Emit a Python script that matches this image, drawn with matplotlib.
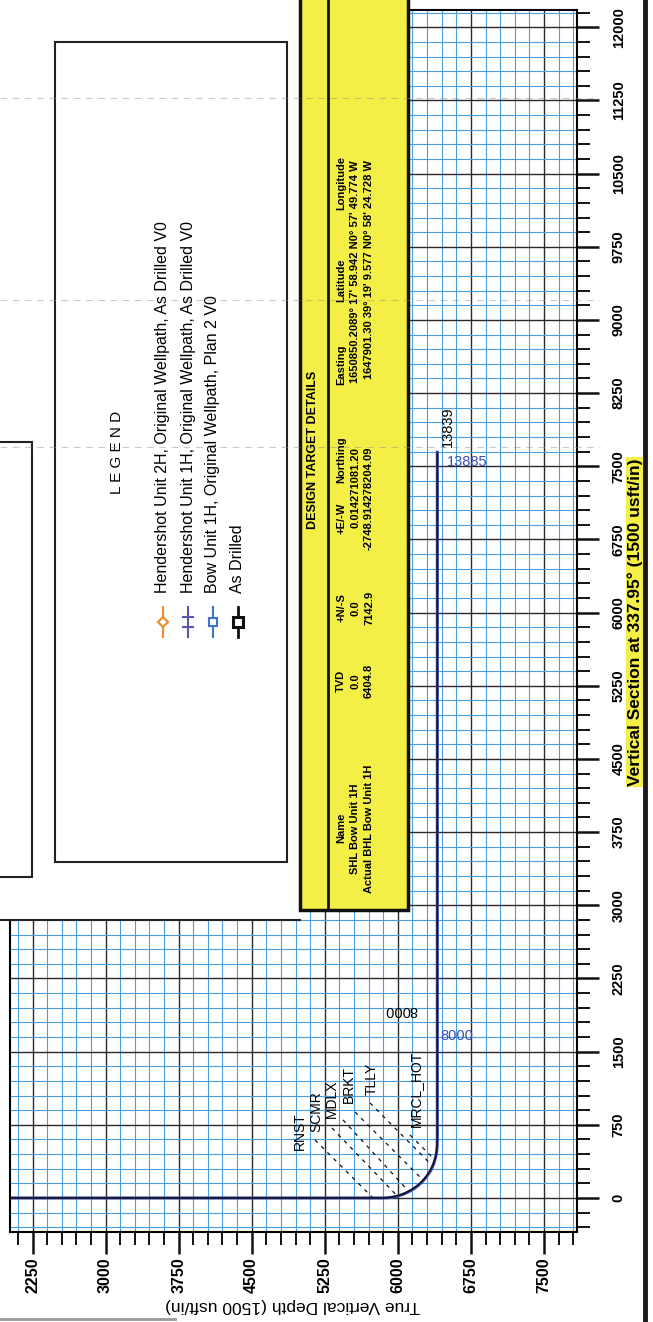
import matplotlib
matplotlib.use("Agg")
import matplotlib.pyplot as plt
from matplotlib.patches import Rectangle
from matplotlib.lines import Line2D
from matplotlib.ticker import MultipleLocator

W, H = 653, 1322
plt.rcParams['font.family'] = ['Liberation Sans', 'DejaVu Sans']

TVD_TICKS = [2250, 3000, 3750, 4500, 5250, 6000, 6750, 7500]
VS_TICKS = [0, 750, 1500, 2250, 3000, 3750, 4500, 5250, 6000, 6750, 7500,
            8250, 9000, 9750, 10500, 11250, 12000]

plan_tvd = [0, 5850, 5900, 5950, 6000, 6050, 6100, 6150, 6200, 6250, 6300, 6340,
            6370, 6390, 6400, 6404, 6405, 6405]
plan_vs = [0, 0, 2, 9, 20, 36, 58, 85, 120, 165, 225, 285, 355, 425, 485, 540, 620, 7660]

drill_tvd = [0, 5830, 5880, 5930, 5980, 6030, 6080, 6130, 6180, 6230, 6280, 6320,
             6355, 6380, 6395, 6402, 6405, 6406]
drill_vs = [0, 0, 2, 8, 18, 33, 53, 80, 112, 152, 205, 262, 325, 395, 460, 530, 620, 7640]

form_names = ["RNST", "SCMR", "MDLX", "BRKT", "TLLY", "MRCL_HOT"]
form_lbl_tvd = [4996, 5160, 5324, 5499, 5735, 6186]
form_lbl_vs = [492, 677, 820, 974, 1056, 728]
form_tvd0 = [5150, 5324, 5437, 5560, 5714, 6125]
form_vs0 = [594, 717, 800, 881, 974, 646]
form_tvd1 = [5745, 5990, 6110, 6262, 6355, 6380]
form_vs1 = [0, 25, 70, 180, 330, 390]

leg_labels = ["Hendershot Unit 2H, Original Wellpath, As Drilled V0",
              "Hendershot Unit 1H, Original Wellpath, As Drilled V0",
              "Bow Unit 1H, Original Wellpath, Plan 2 V0",
              "As Drilled"]
leg_colors = ["#f08a24", "#5a55b0", "#3f74cc", "#111111"]

tgt_head = ["Name", "TVD", "+N/-S", "+E/-W", "Northing", "Easting", "Latitude", "Longitude"]
tgt_rows = [["SHL Bow Unit 1H", "0.0", "0.0", "0.014271081.20",
             "1650850.2089\u00b0 17' 58.942 N0\u00b0 57' 49.774 W"],
            ["Actual BHL Bow Unit 1H", "6404.8", "7142.9", "-2748.914278204.09",
             "1647901.30 39\u00b0 19' 9.577 N0\u00b0 58' 24.728 W"]]

BLUE = "#3a4db3"
YEL = "#f4ef46"


def fx(x): return x / W
def fy(y): return 1 - y / H


def ftext(x, y, s, **kw):
    return fig.text(fx(x), fy(y), s, **kw)


def fbox(x0, y0, x1, y1, **kw):
    r = Rectangle((fx(x0), fy(y1)), fx(x1) - fx(x0), fy(y0) - fy(y1),
                  transform=fig.transFigure, **kw)
    fig.add_artist(r)
    return r


def fline(xs, ys, **kw):
    l = Line2D([fx(x) for x in xs], [fy(y) for y in ys], transform=fig.transFigure, **kw)
    fig.add_artist(l)
    return l


fig = plt.figure(figsize=(W / 100, H / 100), dpi=100)
ax = fig.add_axes([10 / W, 1 - 1232 / H, 567 / W, 1222 / H])
ax.set_xlim(2019, 7839)
ax.set_ylim(-349, 12177)

ax.xaxis.set_minor_locator(MultipleLocator(150))
ax.yaxis.set_minor_locator(MultipleLocator(150))
ax.set_xticks(TVD_TICKS)
ax.set_xticklabels([str(t) for t in TVD_TICKS], rotation=90, fontweight="bold", fontsize=11.5)
ax.yaxis.tick_right()
ax.set_yticks(VS_TICKS)
ax.set_yticklabels([str(t) for t in VS_TICKS], rotation=90, fontweight="bold",
                   fontsize=10.5, va="center")
ax.grid(which="minor", color="#4a9fe0", lw=0.8)
ax.grid(which="major", color="#2a2a2a", lw=1.0)
ax.set_axisbelow(True)
ax.tick_params(which="major", direction="out", length=16, width=1.8, color="#111")
ax.tick_params(which="minor", direction="out", length=9, width=1.4, color="#111")
ax.tick_params(axis="y", pad=9)
ax.tick_params(axis="x", pad=2)
for s in ax.spines.values():
    s.set_linewidth(1.5)

# formation tops
for n, lt, lv, t0, v0, t1, v1 in zip(form_names, form_lbl_tvd, form_lbl_vs,
                                     form_tvd0, form_vs0, form_tvd1, form_vs1):
    ax.plot([t0, t1], [v0, v1], color="#111", lw=0.9, ls=(0, (3, 4)))
    ax.text(lt, lv, n, rotation=90, rotation_mode="anchor", ha="left", va="center",
            fontsize=10)

# wellpaths: plan in blue under the as-drilled trace
ax.plot(plan_tvd, plan_vs, color=BLUE, lw=2.2, solid_capstyle="butt")
ax.plot(drill_tvd, drill_vs, color="#141420", lw=1.2, solid_capstyle="butt")
ax.text(6500, 7545, "13885", color=BLUE, fontsize=10.5, ha="left", va="center")
ax.text(6515, 7700, "13839", rotation=90, rotation_mode="anchor", ha="left",
        va="center", fontsize=10.5)
ax.text(6433, 1660, "8000", color=BLUE, fontsize=10.5, ha="left", va="center")
ax.text(6032, 1927, "8000", rotation=180, ha="center", va="center", fontsize=10.5)

# axis titles
ftext(293, 1305, "True Vertical Depth (1500 usft/in)", rotation=180, ha="center",
      va="center", fontsize=12.5)
ftext(635, 622, "Vertical Section at 337.95\u00b0 (1500 usft/in)", rotation=90,
      ha="center", va="center", fontsize=12.5, fontweight="bold",
      bbox=dict(facecolor=YEL, edgecolor="none", pad=1.0))

# white sheet over the upper left grid
fbox(-5, -5, 300, 920, facecolor="white", edgecolor="none", zorder=4)
fline([0, 300], [920, 920], color="#222", lw=1.5, zorder=5)
fbox(-10, 442, 32, 877, facecolor="none", edgecolor="#222", lw=1.5, zorder=5)

# legend box
fbox(55, 42, 287, 862, facecolor="white", edgecolor="#222", lw=1.5, zorder=5)
ftext(117, 452, "L E G E N D", rotation=90, ha="center", va="center", fontsize=11,
      zorder=6)
leg_x = [163, 188, 213, 238]
leg_mk = ["D", "_", "s", "s"]
for i, (lab, c) in enumerate(zip(leg_labels, leg_colors)):
    x = leg_x[i]
    ftext(x, 593, lab, rotation=90, rotation_mode="anchor", ha="left", va="center",
          fontsize=11.5, zorder=6)
    lw = 2.0 if i == 3 else 1.5
    fline([x, x], [607, 637], color=c, lw=lw, zorder=6)
    if i == 1:
        fline([x, x], [617, 627], color=c, lw=0, marker="_", ms=8, mew=1.5, zorder=6)
    else:
        ms = 5 if i == 0 else (6 if i == 2 else 7)
        fline([x], [622], color=c, lw=0, marker=leg_mk[i], ms=ms, mfc="white",
              mec=c, mew=1.5 if i < 3 else 2.2, zorder=6)

# design target table
fbox(300, -10, 408, 910, facecolor=YEL, edgecolor="#111", lw=2.5, zorder=5)
fline([328, 328], [-10, 910], color="#111", lw=2.0, zorder=6)
ftext(313, 450, "DESIGN TARGET DETAILS", rotation=90, ha="center", va="center",
      fontsize=9, fontweight="bold", zorder=7)
head_y = [828, 681, 608, 518, 460, 365, 280, 183]
fs_t = 8.0
for s, y in zip(tgt_head, head_y):
    ftext(341, y, s, rotation=90, ha="center", va="center", fontsize=fs_t,
          fontweight="bold", zorder=7)
for row, x in zip(tgt_rows, [355, 369]):
    ftext(x, 829, row[0], rotation=90, ha="center", va="center", fontsize=fs_t,
          fontweight="bold", zorder=7)
    ftext(x, 681, row[1], rotation=90, ha="center", va="center", fontsize=fs_t,
          fontweight="bold", zorder=7)
    ftext(x, 608, row[2], rotation=90, ha="center", va="center", fontsize=fs_t,
          fontweight="bold", zorder=7)
    ftext(x, 447, row[3], rotation=90, rotation_mode="anchor", ha="right", va="center",
          fontsize=fs_t, fontweight="bold", zorder=7)
    ftext(x, 160, row[4], rotation=90, rotation_mode="anchor", ha="right", va="center",
          fontsize=fs_t, fontweight="bold", zorder=7)

# scan leftovers: faint fold lines and page border
for y in [98, 300, 447]:
    fline([0, 600], [y, y], color="#8a8a8a", lw=0.8, ls=(0, (6, 5)), alpha=0.45, zorder=8)
fline([645, 645], [0, 1322], color="#1a1a1a", lw=3.5, zorder=8)
fline([0, 175], [1319, 1319], color="#9a9a9a", lw=2, zorder=8)

fig.savefig("out.png", dpi=100)
